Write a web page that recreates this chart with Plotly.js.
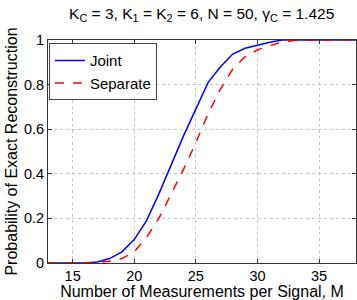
<!DOCTYPE html>
<html><head><meta charset="utf-8">
<script src="https://cdn.plot.ly/plotly-3.0.1.min.js"></script>
<style>html,body{margin:0;padding:0;background:#fff}#c{width:357px;height:300px}</style>
</head><body><div id="c"></div>
<script>
var M = [13,14,15,16,17,18,19,20,21,22,23,24,25,26,27,28,29,30,31,32,33,34,35,36,37,38];
var joint =    [0,0,0,0,0.005,0.02,0.05,0.105,0.19,0.31,0.44,0.57,0.69,0.81,0.88,0.937,0.963,0.978,0.99,1,1,1,1,1,1,1];
var separate = [0,0,0,0,0.002,0.008,0.02,0.05,0.115,0.2,0.31,0.42,0.54,0.67,0.78,0.87,0.925,0.955,0.975,0.99,0.998,1,1,1,1,1];
var xTicks = [15,20,25,30,35];
var yTicks = [0,0.2,0.4,0.6,0.8,1];
var yTickText = ['0','0.2','0.4','0.6','0.8','1'];

var font = 'Liberation Sans, Arial, sans-serif';
var traces = [
  {x:M, y:joint, name:'Joint', mode:'lines', line:{color:'#0000ff', width:1.5}},
  {x:M, y:separate, name:'Separate', mode:'lines', line:{color:'#ff0000', width:1.5, dash:'dash'}}
];
var ax = {
  showline:true, mirror:'ticks', linecolor:'#333', linewidth:1,
  ticks:'inside', ticklen:4, tickcolor:'#333',
  showgrid:true, gridcolor:'#c8c8c8', griddash:'dot', gridwidth:1,
  zeroline:false, tickfont:{family:font, size:14.5, color:'#000'}
};
var layout = {
  width:357, height:300,
  margin:{l:48, r:1, t:40, b:37},
  paper_bgcolor:'#fff', plot_bgcolor:'#fff',
  font:{family:font, color:'#000'},
  title:{text:'K<sub>C</sub> = 3, K<sub>1</sub> = K<sub>2</sub> = 6, N = 50, γ<sub>C</sub> = 1.425',
         font:{family:font, size:15.5, color:'#000'}, x:0.565, xanchor:'center', y:0.955, yanchor:'middle'},
  xaxis:Object.assign({}, ax, {range:[13,38], tickvals:xTicks,
         title:{text:'Number of Measurements per Signal, M', font:{family:font, size:16}, standoff:1}}),
  yaxis:Object.assign({}, ax, {range:[0,1], tickvals:yTicks, ticktext:yTickText,
         title:{text:'Probability of Exact Reconstruction', font:{family:font, size:16}, standoff:2}}),
  showlegend:true,
  legend:{x:0.003, y:0.985, xanchor:'left', yanchor:'top', bgcolor:'#fff',
          bordercolor:'#444', borderwidth:1, font:{family:font, size:15, color:'#000'},
          tracegroupgap:0, itemwidth:30}
};
Plotly.newPlot('c', traces, layout, {staticPlot:true, displayModeBar:false});
</script></body></html>
